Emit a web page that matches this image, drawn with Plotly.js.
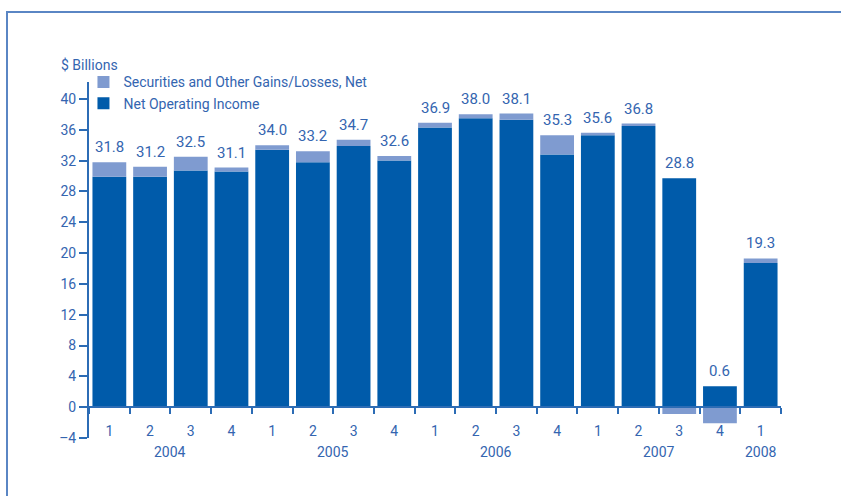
<!DOCTYPE html>
<html>
<head>
<meta charset="utf-8">
<script src="https://cdn.plot.ly/plotly-3.0.1.min.js"></script>
<style>
  html, body { margin: 0; padding: 0; background: #ffffff; }
  #wrap { position: relative; width: 841px; height: 496px; overflow: hidden; }
  #chart { position: absolute; left: 0; top: 0; width: 841px; height: 496px; }
  #frame { position: absolute; left: 6px; top: 11px; width: 900px; height: 600px;
           border-left: 2px solid #5a86c4; border-top: 2px solid #5a86c4; pointer-events: none; }
</style>
</head>
<body>
<div id="wrap">
  <div id="chart"></div>
  <div id="frame"></div>
</div>
<script>
// ---- data ----
const years    = ["2004","2004","2004","2004","2005","2005","2005","2005","2006","2006","2006","2006","2007","2007","2007","2007","2008"];
const quarters = ["1","2","3","4","1","2","3","4","1","2","3","4","1","2","3","4","1"];
const netOperatingIncome = [29.9, 29.9, 30.7, 30.6, 33.4, 31.8, 33.9, 32.0, 36.3, 37.5, 37.3, 32.8, 35.3, 36.5, 29.7, 2.7, 18.7];
const securitiesGains    = [1.9, 1.3, 1.8, 0.5, 0.6, 1.4, 0.8, 0.6, 0.6, 0.5, 0.8, 2.5, 0.3, 0.3, -0.9, -2.1, 0.6];
const totals             = [31.8, 31.2, 32.5, 31.1, 34.0, 33.2, 34.7, 32.6, 36.9, 38.0, 38.1, 35.3, 35.6, 36.8, 28.8, 0.6, 19.3];
const yTickVals = [-4, 0, 4, 8, 12, 16, 20, 24, 28, 32, 36, 40];
const yTickText = ["\u20134", "0", "4", "8", "12", "16", "20", "24", "28", "32", "36", "40"];

// ---- derived ----
const cats = years.map((y, i) => y + " Q" + quarters[i]);
const labelY = netOperatingIncome.map((v, i) => Math.max(v, v + securitiesGains[i]));
const yearList = [...new Set(years)];
const yearCenters = yearList.map(y => {
  const idx = years.map((v, i) => v === y ? i : -1).filter(i => i >= 0);
  return idx.reduce((a, b) => a + b, 0) / idx.length;
});

const DARK = "#005baa";
const LIGHT = "#7f9bd0";
const TXT = "#3465b0";
const AX = "#2c6cb5";
const FONT = "Roboto, 'Liberation Sans', sans-serif";

const yMin = -4, yMax = 42.2;

const traces = [
  { type: "bar", name: "Net Operating Income", x: cats, y: netOperatingIncome,
    marker: { color: DARK, line: { width: 0 } }, hoverinfo: "skip" },
  { type: "bar", name: "Securities and Other Gains/Losses, Net", x: cats, y: securitiesGains,
    marker: { color: LIGHT, line: { width: 0 } }, hoverinfo: "skip" }
];

const valueLabels = cats.map((c, i) => ({
  xref: "x", yref: "y", x: c, y: labelY[i], xanchor: "center", yanchor: "bottom", yshift: 4,
  text: totals[i].toFixed(1), showarrow: false, font: { family: FONT, size: 15, color: TXT }
}));

const annotations = [
  { xref: "paper", yref: "paper", x: -0.044, y: 1.047, xanchor: "left", yanchor: "middle",
    text: "$ Billions", showarrow: false, font: { family: FONT, size: 14, color: TXT } }
].concat(yearList.map((y, i) => ({
  xref: "x", yref: "paper", x: yearCenters[i], y: -0.04, xanchor: "center", yanchor: "middle",
  text: y, showarrow: false, font: { family: FONT, size: 14, color: TXT }
}))).concat(valueLabels);

const layout = {
  width: 841, height: 496,
  margin: { l: 89, r: 60, t: 82, b: 58 },
  paper_bgcolor: "rgba(0,0,0,0)", plot_bgcolor: "rgba(0,0,0,0)",
  barmode: "relative", bargap: 0.17,
  font: { family: FONT, size: 14, color: TXT },
  showlegend: true,
  legend: { x: -0.008, y: 1.044, xanchor: "left", yanchor: "top", traceorder: "reversed",
            bgcolor: "rgba(0,0,0,0)", font: { family: FONT, size: 14, color: TXT },
            itemwidth: 30, tracegroupgap: 0 },
  xaxis: { type: "category", categoryorder: "array", categoryarray: cats,
           range: [-0.5, cats.length - 0.5],
           tickmode: "array", tickvals: cats, ticktext: quarters, tickson: "boundaries",
           ticks: "outside", ticklen: 6, tickwidth: 2, tickcolor: AX,
           showline: true, linecolor: AX, linewidth: 2, showgrid: false, zeroline: false,
           anchor: "free", position: (0 - yMin) / (yMax - yMin),
           ticklabelstandoff: 11, tickfont: { family: FONT, size: 14, color: TXT } },
  yaxis: { range: [yMin, yMax], tickmode: "array", tickvals: yTickVals, ticktext: yTickText,
           ticks: "outside", ticklen: 8, tickwidth: 2, tickcolor: AX,
           showline: true, linecolor: AX, linewidth: 2, showgrid: false, zeroline: false,
           tickfont: { family: FONT, size: 14, color: TXT } },
  annotations: annotations
};

Plotly.newPlot("chart", traces, layout, { staticPlot: true, displayModeBar: false });
</script>
</body>
</html>
